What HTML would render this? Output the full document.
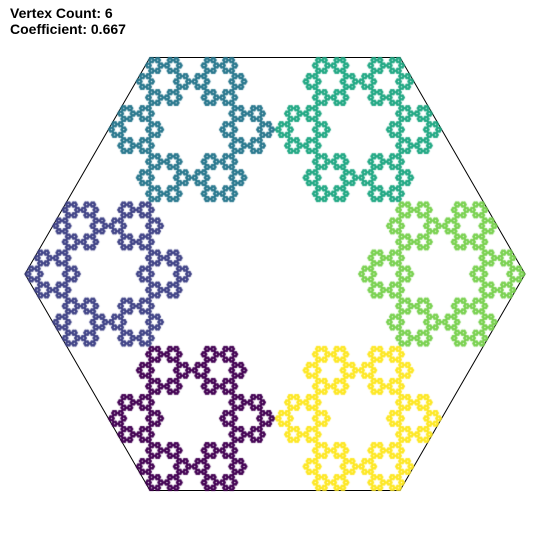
<!DOCTYPE html>
<html><head><meta charset="utf-8"><style>
html,body{margin:0;padding:0;background:#fff;width:550px;height:550px;overflow:hidden}
#wrap{position:relative;width:550px;height:550px}
.t{position:absolute;left:10px;font:bold 14px "Liberation Sans",sans-serif;color:#000;line-height:16px}
canvas,svg{position:absolute;left:0;top:0}
</style></head><body>
<div id="wrap">
<div class="t" style="top:5px">Vertex Count: 6</div>
<div class="t" style="top:21px">Coefficient: 0.667</div>
<svg width="550" height="550"><polygon id="hex" fill="none" stroke="#000" stroke-width="1"/></svg>
<canvas id="c" width="550" height="550"></canvas>
</div>
<script>
const vertexCount = [6];
const coefficient = [0.667];
const vertexAnglesDeg = [240, 180, 120, 60, 0, 300];
const vertexColors = ["#440154", "#414487", "#2a788e", "#22a884", "#7ad151", "#fde725"];
const depth = 6;
const cx = 275, cy = 274, R = 250;
const verts = vertexAnglesDeg.map(a => [Math.cos(a*Math.PI/180), Math.sin(a*Math.PI/180)]);
const sx = x => cx + x*R;
const sy = y => cy - y*R;
document.getElementById('hex').setAttribute('points',
  verts.map(v=>sx(v[0]).toFixed(1)+','+sy(v[1]).toFixed(1)).join(' '));
const ctx = document.getElementById('c').getContext('2d');
const k = coefficient[0], s = 1 - k, n = vertexCount[0];
function rec(x, y, scale, lvl) {
  if (lvl === depth) { ctx.fillRect(sx(x)-0.7, sy(y)-0.7, 1.4, 1.4); return; }
  for (let i = 0; i < n; i++) {
    if (lvl === 0) ctx.fillStyle = vertexColors[i];
    rec(x + scale*k*verts[i][0], y + scale*k*verts[i][1], scale*s, lvl+1);
  }
}
rec(0, 0, 1, 0);
</script>
</body></html>
